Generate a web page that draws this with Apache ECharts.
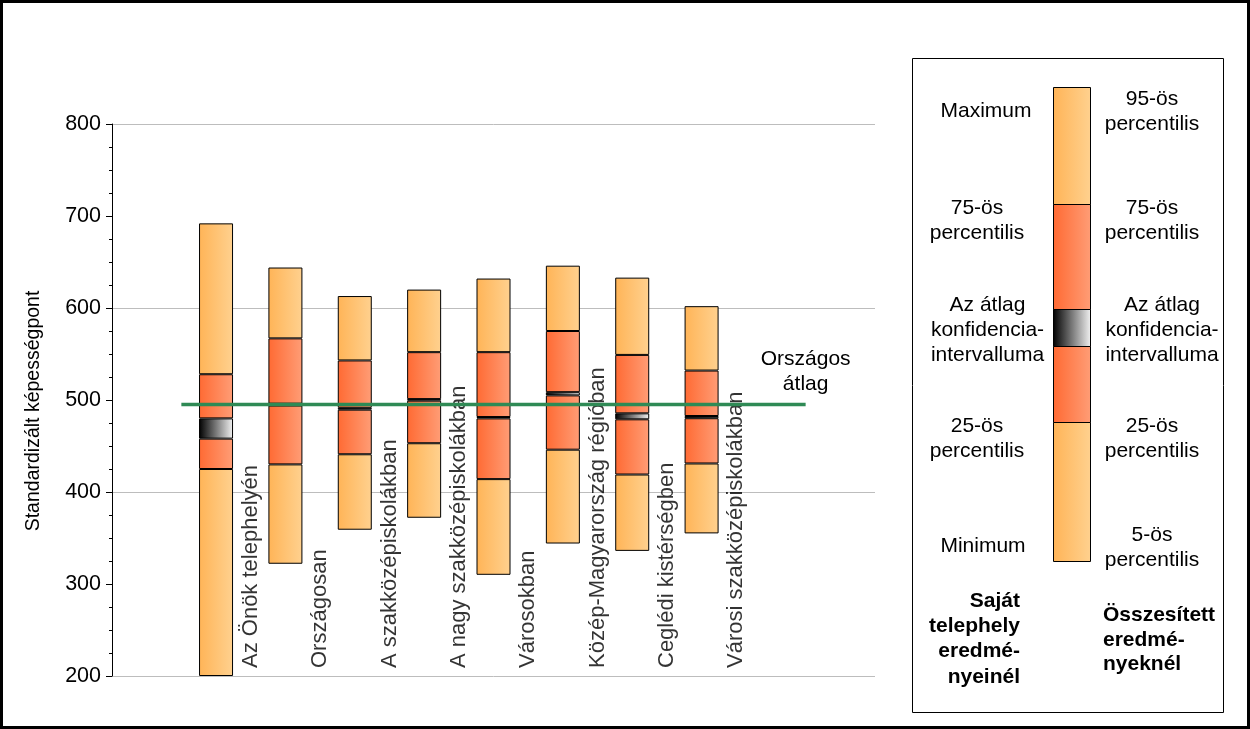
<!DOCTYPE html>
<html>
<head>
<meta charset="utf-8">
<script src="https://cdn.jsdelivr.net/npm/echarts@6/dist/echarts.min.js"></script>
<style>
html,body{margin:0;padding:0;background:#fff;}
#chart{width:1250px;height:729px;}
</style>
</head>
<body>
<div id="chart"></div>
<script>
// ---- data ----
const categories = ['Az Önök telephelyén','Országosan','A szakközépiskolákban','A nagy szakközépiskolákban','Városokban','Közép-Magyarország régióban','Ceglédi kistérségben','Városi szakközépiskolákban'];
const minVals    = [200, 322, 359, 372, 310, 344, 336, 355];
const p25Vals    = [425, 430, 441, 453, 414, 446, 419, 431];
const ciLowVals  = [458, 494, 489.5, 499.3, 480, 505, 479, 480.2];
const ciHighVals = [480, 496, 491.5, 501, 481.5, 508.5, 485.5, 482.6];
const p75Vals    = [528, 567, 543, 552, 552, 575, 549, 532];
const maxVals    = [692, 644, 613, 620, 632, 646, 633, 602];
const nationalAvg = 495;
const avgLabel = 'Országos\nátlag';
const yTicks = [200, 300, 400, 500, 600, 700, 800];
const yTitle = 'Standardizált képességpont';

// ---- layout helpers ----
const FONT = '"Liberation Sans", Arial, sans-serif';
const N_SLOTS = categories.length + 3; // empty slot before, two after
const slotNames = Array.from({length: N_SLOTS}, (_, i) => String(i));
function pad(arr) {
  const out = ['-'];
  arr.forEach(v => out.push(v));
  while (out.length < N_SLOTS) out.push('-');
  return out;
}
function grad(c1, c2) {
  return {type: 'linear', x: 0, y: 0, x2: 1, y2: 0,
    colorStops: [{offset: 0, color: c1}, {offset: 1, color: c2}]};
}
const LIGHT = grad('#ffb457', '#ffd18f');
const MID = grad('#ff6a33', '#ff9d76');
const CI = grad('#000000', '#f2f2f2');

const segs = [
  {name: 'base', vals: minVals.map(v => v), color: 'transparent', border: 0},
  {name: 'low', vals: minVals.map((v, i) => p25Vals[i] - v), color: LIGHT, border: 1},
  {name: 'lowMid', vals: p25Vals.map((v, i) => ciLowVals[i] - v), color: MID, border: 1},
  {name: 'ci', vals: ciLowVals.map((v, i) => ciHighVals[i] - v), color: CI, border: 1},
  {name: 'highMid', vals: ciHighVals.map((v, i) => p75Vals[i] - v), color: MID, border: 1},
  {name: 'high', vals: p75Vals.map((v, i) => maxVals[i] - v), color: LIGHT, border: 1}
];

const barSeries = segs.map(s => ({
  name: s.name, type: 'bar', stack: 'box', barWidth: 34,
  xAxisIndex: 0, yAxisIndex: 0,
  data: pad(s.vals),
  itemStyle: {color: s.color, borderColor: s.border ? '#000' : 'transparent', borderWidth: s.border},
  emphasis: {disabled: true},
  silent: true, animation: false
}));

const chart = echarts.init(document.getElementById('chart'), null, {renderer: 'canvas'});

// legend texts
const legendTexts = [
  {t: 'Maximum', x: 986, y: 111},
  {t: '75-ös\npercentilis', x: 977, y: 220.5},
  {t: 'Az átlag\nkonfidencia-\nintervalluma', x: 987.5, y: 330},
  {t: '25-ös\npercentilis', x: 977, y: 438.5},
  {t: 'Minimum', x: 983, y: 546},
  {t: '95-ös\npercentilis', x: 1152, y: 111.5},
  {t: '75-ös\npercentilis', x: 1152, y: 220.5},
  {t: 'Az átlag\nkonfidencia-\nintervalluma', x: 1162, y: 330},
  {t: '25-ös\npercentilis', x: 1152, y: 438.5},
  {t: '5-ös\npercentilis', x: 1152, y: 547.5}
];
const graphics = [];
graphics.push({type: 'rect', shape: {x: 1.5, y: 1.5, width: 1247, height: 726},
  style: {fill: 'none', stroke: '#000', lineWidth: 3}, silent: true, z: 100});
graphics.push({type: 'rect', shape: {x: 912.5, y: 58.5, width: 311, height: 654},
  style: {fill: '#fff', stroke: '#000', lineWidth: 1}, silent: true, z: 0});
const legSegs = [[87, 204, LIGHT], [204, 309, MID], [309, 346, CI], [346, 422, MID], [422, 561, LIGHT]];
legSegs.forEach(s => graphics.push({type: 'rect', shape: {x: 1053.5, y: s[0] + 0.5, width: 37, height: s[1] - s[0]},
  style: {fill: s[2], stroke: '#000', lineWidth: 1}, silent: true, z: 5}));
legendTexts.forEach(o => graphics.push({type: 'text', x: o.x, y: o.y, silent: true, z: 6,
  style: {text: o.t, fill: '#000', font: '21px ' + FONT, textAlign: 'center', textVerticalAlign: 'middle', lineHeight: 25}}));
graphics.push({type: 'text', x: 1020, y: 639, silent: true, z: 6,
  style: {text: 'Saját\ntelephely\neredmé-\nnyeinél', fill: '#000', font: 'bold 21px ' + FONT, textAlign: 'right', textVerticalAlign: 'middle', lineHeight: 25.3}});
graphics.push({type: 'text', x: 1103, y: 640, silent: true, z: 6,
  style: {text: 'Összesített\neredmé-\nnyeknél', fill: '#000', font: 'bold 21px ' + FONT, textAlign: 'left', textVerticalAlign: 'middle', lineHeight: 24.7}});

const option = {
  animation: false,
  backgroundColor: '#fff',
  textStyle: {fontFamily: FONT},
  grid: {left: 112, right: 375, top: 124, bottom: 53, containLabel: false},
  xAxis: [
    {type: 'category', data: slotNames, axisLine: {show: false}, axisTick: {show: false},
      axisLabel: {show: false}, splitLine: {show: false}},
    {type: 'value', min: 0, max: N_SLOTS, show: false}
  ],
  yAxis: [
    {type: 'value', min: yTicks[0], max: yTicks[yTicks.length - 1], interval: yTicks[1] - yTicks[0],
      name: yTitle, nameLocation: 'middle', nameGap: 68, nameRotate: 90,
      nameTextStyle: {fontSize: 19.5, color: '#000', fontFamily: FONT, padding: [0, 22, 0, 0]},
      axisLine: {show: true, lineStyle: {color: '#000', width: 1}},
      axisTick: {show: true, length: 6, lineStyle: {color: '#000'}},
      minorTick: {show: true, splitNumber: 4, length: 3, lineStyle: {color: '#000'}},
      splitLine: {show: false}, minorSplitLine: {show: false},
      axisLabel: {fontSize: 21.5, color: '#000', margin: 11, fontFamily: FONT}},
    {type: 'value', min: yTicks[0], max: yTicks[yTicks.length - 1], interval: 200, position: 'left',
      axisLine: {show: false}, axisTick: {show: false}, axisLabel: {show: false},
      splitLine: {show: true, lineStyle: {color: '#bdbdbd', width: 1}}}
  ],
  graphic: graphics,
  series: barSeries.concat([
    {type: 'line', xAxisIndex: 1, yAxisIndex: 0, silent: true, z: 5,
      data: [[1, nationalAvg], {value: [N_SLOTS - 1, nationalAvg],
        label: {show: true, formatter: avgLabel, position: 'top', distance: 8,
          fontSize: 21, lineHeight: 25, color: '#000', fontFamily: FONT, align: 'center'}}],
      showSymbol: true, symbol: 'circle', symbolSize: 0,
      lineStyle: {color: '#2f8a55', width: 3.5}, itemStyle: {color: '#2f8a55'}},
    {type: 'scatter', xAxisIndex: 1, yAxisIndex: 0, silent: true, clip: false, symbolSize: 0,
      data: categories.map((c, i) => ({value: [i + 2, yTicks[0]], name: c})),
      label: {show: true, formatter: p => p.name, position: 'top', distance: 8, rotate: 90,
        align: 'left', verticalAlign: 'middle', fontSize: 22, color: '#000', fontFamily: FONT}}
  ])
};
chart.setOption(option);
</script>
</body>
</html>
